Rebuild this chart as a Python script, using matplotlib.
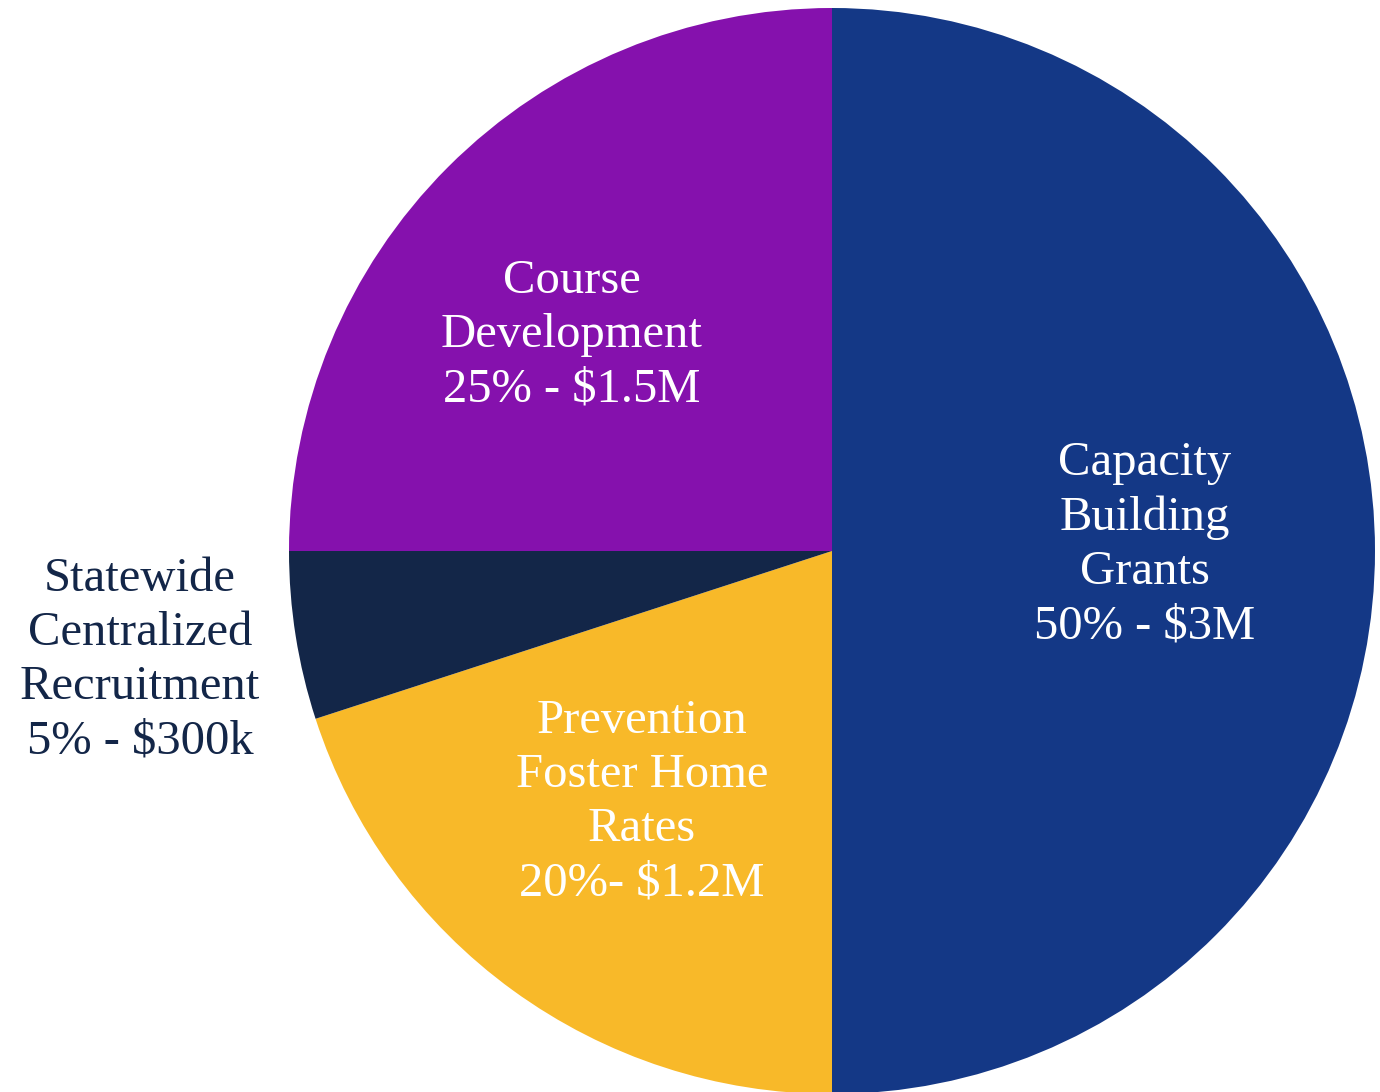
import matplotlib.pyplot as plt

# ============================================================
# Data
# ============================================================

categories = [
    "Capacity\nBuilding\nGrants",
    "Prevention\nFoster Home\nRates",
    "Statewide\nCentralized\nRecruitment",
    "Course\nDevelopment",
]
shares = [50, 20, 5, 25]
amount_labels = ["50% - $3M", "20%- $1.2M", "5% - $300k", "25% - $1.5M"]
colors = ["#143886", "#F8B929", "#132648", "#8511AD"]

# ============================================================
# Plot
# ============================================================

W, H = 1380, 1092
fig = plt.figure(figsize=(W / 100, H / 100), dpi=100)
ax = fig.add_axes([0, 0, 1, 1])

center = (832, H - 551)
radius = 543

ax.pie(
    shares,
    colors=colors,
    startangle=90,
    counterclock=False,
    center=center,
    radius=radius,
    frame=True,
    wedgeprops=dict(linewidth=0),
)
ax.set_xlim(0, W)
ax.set_ylim(0, H)
ax.set_aspect("equal")
ax.axis("off")

# label positions in pixels (x, y from top)
label_pos = [(1145, 545), (642, 802), (140, 660), (572, 335)]
text_colors = ["white", "white", "#132648", "white"]

for cat, amt, (x, y), c in zip(categories, amount_labels, label_pos, text_colors):
    ax.text(
        x, H - y, f"{cat}\n{amt}",
        ha="center", va="center", color=c,
        fontsize=35, family="Liberation Serif", linespacing=1.3,
    )

fig.savefig("out.png", dpi=100)
